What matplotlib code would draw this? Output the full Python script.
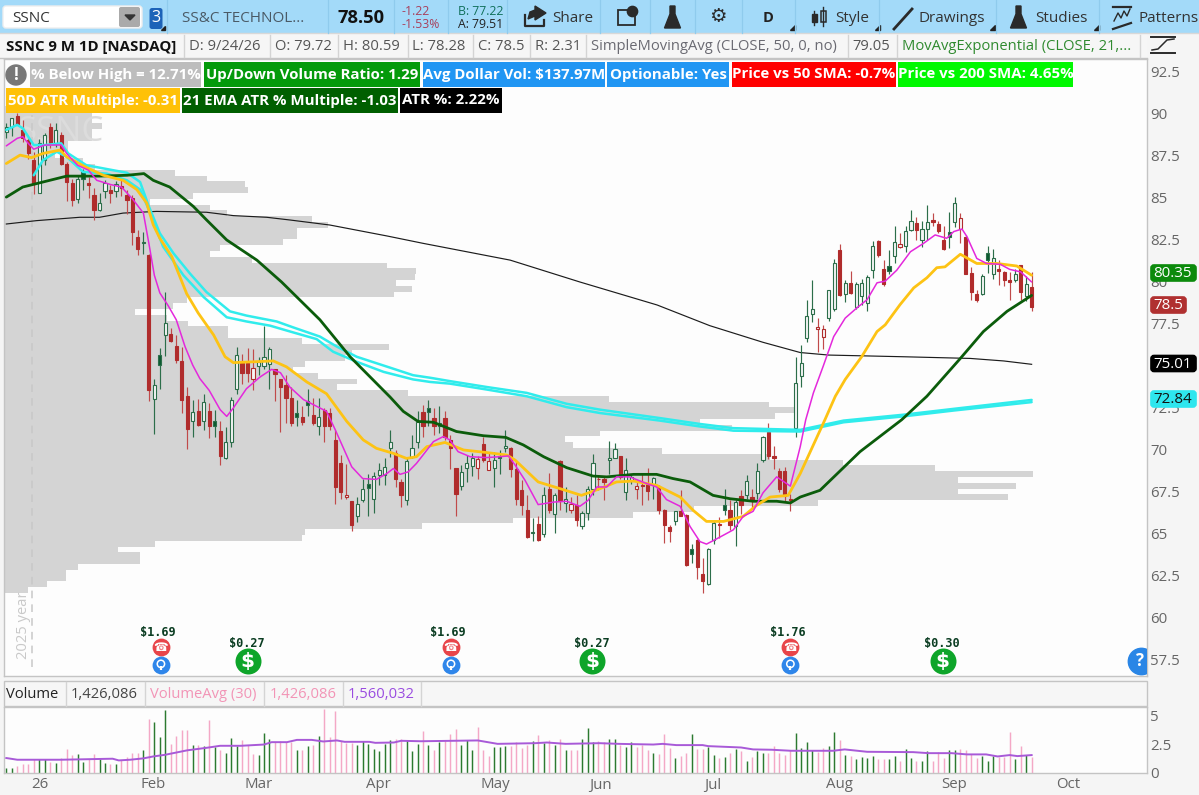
#!/usr/bin/env python3
"""SSNC daily candles with moving averages, volume profile and volume pane."""

import numpy as np
import matplotlib
matplotlib.use("Agg")
import matplotlib.pyplot as plt
from matplotlib.patches import Rectangle, FancyBboxPatch, Polygon

plt.rcParams["font.family"] = ["Open Sans", "DejaVu Sans"]

W, H = 1199, 795

# candles, one entry per trading day
opens = [88.95,89.25,89.85,89.05,88.45,87.25,85.3,87.25,89.25,88.25,
         88.75,87.05,85.9,84.95,86.55,85.9,85.2,84.3,85.4,85.45,
         85.4,85.7,85.2,85.0,82.7,82.4,81.6,73.05,75.65,76.85,
         76.9,76.2,75.3,73.2,71.75,72.3,71.75,72.3,71.75,71.15,
         69.5,70.5,73.65,75.2,75.2,74.2,75.0,75.0,75.1,74.85,
         74.2,73.85,73.1,72.2,71.95,72.9,72.1,71.4,72.4,72.2,
         70.6,69.25,67.2,66.95,66.1,67.0,68.0,67.1,68.5,68.5,
         70.1,69.8,68.1,67.05,69.6,70.45,72.25,72.5,71.9,71.4,
         71.9,70.6,68.95,67.85,68.9,69.05,68.9,70.35,68.8,68.95,
         69.65,70.1,70.1,68.85,67.6,66.4,65.1,65.6,65.0,67.65,
         66.2,69.35,66.85,66.4,66.75,65.5,66.25,67.65,68.3,68.3,
         69.4,69.55,69.65,67.5,68.2,67.65,67.9,67.95,68.0,67.8,
         66.45,65.4,65.75,66.35,66.15,64.1,64.65,62.6,62.0,64.65,
         65.6,66.7,66.45,65.45,67.25,67.3,67.2,67.45,69.4,71.05,
         69.65,68.75,68.75,67.1,71.3,74.4,76.65,78.1,77.2,76.75,
         77.85,78.4,81.9,79.3,79.95,78.5,79.15,78.75,80.7,82.45,
         80.75,80.95,81.55,82.1,82.15,83.1,83.5,82.5,83.15,83.7,
         83.45,82.5,83.0,83.55,83.15,82.7,80.55,79.3,79.3,81.7,
         80.5,80.75,80.6,80.1,80.1,81.0,79.15,79.72]
highs = [89.45,89.75,90.05,89.65,88.55,87.75,88.5,88.85,89.45,89.45,
         88.95,87.15,86.15,86.35,86.7,86.25,85.6,85.3,86.05,85.8,
         86.0,86.05,85.5,85.15,83.1,82.95,81.65,74.2,76.05,79.4,
         77.25,76.85,76.15,73.75,72.95,73.05,73.35,72.8,72.4,71.7,
         71.35,73.15,76.15,75.7,76.1,76.0,75.55,77.4,76.15,74.85,
         74.2,74.45,73.75,73.0,72.6,73.65,73.1,73.1,72.5,72.5,
         71.2,69.7,69.15,66.95,67.2,68.3,68.6,68.7,69.25,69.5,
         71.2,70.0,68.3,69.6,70.9,72.3,72.65,73.0,72.5,72.6,
         72.3,70.9,68.95,69.1,69.7,69.8,69.65,70.8,69.9,69.9,
         70.0,71.2,70.2,69.4,68.2,67.3,65.95,66.05,67.8,68.65,
         67.45,69.4,67.8,67.2,67.3,66.35,67.85,69.75,68.45,68.4,
         70.55,70.4,69.65,69.5,68.5,68.2,68.6,68.95,68.4,67.9,
         66.5,65.55,66.35,67.6,66.2,64.4,64.7,63.55,64.15,65.85,
         66.0,67.65,67.0,67.0,67.6,68.5,67.7,69.2,70.85,71.6,
         70.25,68.95,69.0,67.4,75.55,76.25,78.9,80.1,77.85,77.45,
         79.55,81.35,82.25,80.1,80.65,80.0,80.2,80.4,82.45,82.5,
         81.3,81.9,83.35,82.9,83.35,84.3,83.85,83.6,84.6,84.1,
         83.65,83.35,84.15,85.05,84.1,82.8,80.9,79.55,80.5,82.15,
         81.95,81.3,80.65,80.6,80.8,81.0,80.35,80.59]
lows = [88.55,88.7,89.35,88.35,87.3,85.25,85.3,86.95,87.95,88.05,
        86.95,84.8,84.5,84.7,85.5,85.0,83.7,84.25,85.0,84.7,
        85.05,85.1,84.05,82.2,81.6,81.65,72.9,70.95,73.65,75.6,
        76.45,75.15,72.2,70.05,70.75,71.4,71.2,70.7,70.75,69.1,
        69.45,70.15,73.35,73.95,74.05,73.55,74.45,74.85,73.65,72.9,
        71.05,71.6,71.45,71.45,71.5,72.0,71.5,70.9,70.45,71.2,
        66.8,67.1,67.1,65.15,65.7,66.9,66.1,66.25,67.9,67.9,
        69.6,67.8,66.6,66.7,69.5,70.1,70.8,71.45,70.9,71.0,
        70.6,68.85,66.05,67.6,68.1,68.45,68.3,69.3,68.8,67.8,
        68.6,69.9,68.4,66.75,66.15,64.75,64.6,64.6,64.85,66.25,
        65.05,66.4,66.3,66.25,65.45,65.3,65.85,67.3,67.6,67.05,
        68.55,69.5,68.3,67.0,68.0,67.1,66.75,67.05,67.1,66.2,
        64.45,64.5,65.55,66.05,63.1,63.3,62.35,61.5,61.95,64.4,
        64.75,66.15,65.25,64.3,66.2,67.1,66.55,67.1,69.3,69.45,
        68.85,67.5,66.95,66.35,70.8,73.75,76.4,77.6,75.85,76.0,
        77.65,78.3,79.15,78.8,79.3,78.4,78.65,78.25,80.25,81.5,
        79.75,80.5,81.1,82.05,81.8,83.05,82.5,82.1,82.5,83.35,
        82.9,81.9,82.0,83.25,82.3,80.45,78.95,78.8,79.2,80.55,
        80.15,79.8,79.75,78.95,80.0,78.95,78.85,78.28]
closes = [89.25,89.75,89.4,88.55,87.65,85.85,88.3,88.75,88.25,89.05,
          87.05,85.95,84.85,86.15,86.15,85.8,84.3,84.7,85.9,85.3,
          85.85,85.6,84.85,82.95,81.95,82.3,73.6,73.85,75.05,77.55,
          76.5,75.35,73.0,71.25,72.25,71.5,72.85,71.45,71.45,69.65,
          70.5,73.0,75.65,74.6,74.6,74.9,75.25,75.55,76.0,74.5,
          73.75,73.1,71.6,71.95,71.65,72.7,71.6,71.95,71.45,71.4,
          67.8,67.5,67.3,65.55,66.8,67.7,67.75,68.45,68.8,69.0,
          70.45,68.3,67.3,69.35,70.1,71.65,71.4,72.25,71.4,71.6,
          70.8,70.1,67.4,68.7,69.2,69.55,69.45,69.4,69.35,69.4,
          69.5,70.25,68.85,67.1,66.75,64.85,65.05,64.65,67.3,66.4,
          67.35,67.05,67.1,66.8,65.85,66.25,67.65,69.2,68.25,68.1,
          69.55,70.05,68.4,68.8,68.4,67.85,67.85,67.55,68.35,66.45,
          65.55,65.2,66.35,66.1,63.15,63.8,63.05,62.2,64.1,65.65,
          65.55,66.4,65.55,66.9,66.7,68.15,67.05,68.75,70.75,69.65,
          69.55,67.7,67.25,67.0,74.0,75.2,78.0,78.4,77.3,77.2,
          79.5,81.15,79.25,79.95,79.35,79.9,79.95,80.3,82.15,81.6,
          79.9,80.65,82.4,82.25,83.05,83.6,83.1,83.15,83.55,83.55,
          83.05,81.95,82.65,84.7,83.8,80.5,79.4,78.95,80.35,81.3,
          81.4,80.65,80.1,80.0,80.5,79.4,79.85,78.5]
# G = up on the previous close, R = down
direction = ("GGRRRRGGRG" "RRRGGRRGGR" "GRRRRGRGGG" "RRRRGRGRGR" "GGGRRRGGGR"
             "RRRGRGRGRR" "RRRRGGGGGG" "GRRGGGRGRG" "RRRGGGRRRG" "GGRRRRGRGR"
             "GRGRRGGGRR" "GGRGGRRRGR" "RRGRRGRRGG" "RGRGRGRGGR" "RRRRGGGGRR"
             "GGRGRGGGGR" "RGGRGGRGGR" "RRGGRRRRGG" "GRRRGRGR")
volume = [0.47,0.47,0.64,0.76,0.76,1.26,1.26,1.26,0.96,0.88,
          1.35,2.16,1.55,1.64,0.96,1.26,1.7,1.26,0.88,0.76,
          0.82,1.17,1.4,1.75,1.78,2.0,4.74,4.53,3.2,5.55,
          2.57,3.3,3.83,3.8,2.49,2.49,2.37,4.7,2.28,2.0,
          1.78,3.1,2.34,2.87,2.43,1.7,1.6,3.5,3.0,2.7,
          2.8,2.7,2.7,2.0,2.0,2.37,2.5,3.3,5.64,3.2,
          5.44,2.8,2.66,2.63,2.5,2.78,2.57,2.08,1.9,2.57,
          2.87,3.0,3.0,2.87,1.9,2.57,3.68,2.43,2.0,2.72,
          2.8,3.4,3.9,2.5,2.87,2.0,4.1,2.0,1.5,2.28,
          2.28,2.37,2.34,2.75,2.2,2.5,2.78,3.36,2.66,2.87,
          2.43,3.0,2.0,2.05,2.05,3.0,3.98,2.7,2.8,2.7,
          3.0,3.0,2.43,2.28,2.72,2.28,2.5,2.0,1.78,1.7,
          3.4,2.2,1.3,1.5,1.78,3.4,2.08,2.1,2.28,1.6,
          1.3,1.4,1.78,2.08,1.9,1.1,1.4,1.9,1.78,1.78,
          2.4,1.75,1.6,2.05,3.5,2.2,2.72,2.0,1.84,2.2,
          2.4,3.63,2.92,1.6,1.5,1.2,1.4,1.3,1.5,1.2,
          1.2,1.2,1.5,1.1,2.08,1.3,1.1,1.1,1.9,1.1,
          1.84,1.3,2.0,2.0,2.08,2.0,1.7,1.3,1.5,1.1,
          1.5,1.4,1.4,3.6,1.2,2.4,1.55,1.43]

# study lines at these bars
magenta_x = [0,2,3,4,5,7,10,11,13,15,16.5,19,21,23,25,26,27,28,29.5,31,32.6,34,35.3,37,39,40.2,41.4,43.8,46.3,48.4,
             50,51.7,54.2,56,58.4,60,61.5,63,65,67.5,69.4,70.6,71.8,73.3,74.8,76,77.9,79.7,80.9,82.4,84.6,87.6,90,91.6,
             92.8,94.6,97,99.8,102.2,104.6,106.1,107.7,109.5,111.3,113.7,116.8,118.6,120.4,122.9,124.7,126.5,127.7,129.2,
             132.6,134.4,136.2,138,140.5,143,144.8,145.8,147.2,149,150.9,153,155.1,157,158.8,160.3,162.4,164.9,167.3,
             169.4,171.5,172.8,174.3,175.2,177,178.8,181.3,183,185,187]
magenta_y = [88.1,88.55,88.65,88.25,87.9,88.15,88.15,87.65,86.95,86.65,86.05,85.8,85.65,84.95,84.1,82.3,80.4,79.35,78.6,77.75,76.15,75.05,74.25,73.55,72.4,72.0,72.5,73.65,74.35,74.8,
             74.6,73.75,73.0,72.7,72.3,71.2,70.1,69.0,68.3,68.25,68.6,68.9,68.55,68.7,69.2,69.7,70.5,70.8,70.6,69.9,69.6,69.55,69.6,69.65,
             69.1,68.2,66.75,66.9,66.95,66.65,67.0,67.8,67.8,68.4,68.4,68.0,67.8,67.05,66.65,65.45,64.55,64.4,64.65,
             65.25,66.05,66.35,67.45,68.4,67.85,70.2,71.8,73.4,75.0,76.75,77.85,78.45,78.95,79.95,80.05,80.7,81.8,82.3,
             82.8,82.6,83.0,83.15,82.7,81.4,81.1,81.05,80.75,80.6,80.0]
yellow_x = [0,2.5,4.6,6.7,9.8,11,14.7,17.7,21.3,23.8,25.6,26.8,28,30.2,32.9,35,37.8,39.9,41.4,48.7,
            51.1,54.8,58.4,62.1,65.1,67.5,70.6,73,74.8,76.7,80,83.4,87.6,91.3,92.8,97,101,104.9,108.3,111.3,
            114.4,118.6,122.9,125.3,127.7,130.8,134.4,136.8,139.3,142.6,144.8,149.3,151.2,153,156,158.8,160.3,163,165.5,167.9,
            169.7,171.2,174,177,180.7,184.3,187]
yellow_y = [87.05,87.55,87.4,87.65,87.85,87.45,86.8,86.35,86.05,85.5,84.7,83.4,82.6,81.5,79.3,78.15,76.85,75.55,75.2,75.3,
            74.95,74.05,73.35,71.7,70.6,70.1,69.8,69.5,69.6,70.2,70.45,70.0,69.85,69.7,69.4,68.1,67.7,67.3,67.7,68.1,
            68.15,67.9,67.2,66.4,65.75,65.75,66.05,66.7,67.2,67.3,68.6,71.8,73.2,74.2,75.55,77.05,77.45,78.65,79.65,80.25,
            80.85,80.9,81.65,81.1,81.1,80.95,80.4]
dkgreen_x = [0,3,6.7,11,17,22,25.1,26.8,29.8,34.1,36.5,40.2,45.7,50.2,57.2,62.7,70,72.4,75.1,77.9,
             82.1,87,91.1,94.3,98,102.2,107,109.5,114.4,118.6,121.6,124.7,128.9,132,136.2,140.5,143,144.8,148.4,155.7,
             163.3,167.9,174,178.2,182.5,187]
dkgreen_y = [85.05,85.65,85.95,86.3,86.3,86.35,86.45,86.05,85.65,84.5,83.7,82.5,81.3,80.0,77.75,75.55,73.15,72.3,71.7,71.65,
             71.1,70.85,70.75,70.3,69.6,68.95,68.45,68.4,68.55,68.55,68.3,68.1,67.3,67.1,66.95,66.95,66.85,67.2,67.6,69.9,
             71.8,73.2,75.45,77.05,78.25,79.2]
black_x = [0,5.5,13.4,17,21.3,27.4,36.5,41.4,47.5,51.7,59,69.4,76,91.9,104.6,118.7,128.3,138,144.8,150,163.6,175.8,181.9,187]
black_y = [83.45,83.65,83.85,83.85,84.1,84.2,84.15,83.95,83.85,83.69,83.39,82.74,82.3,81.3,80.0,78.63,77.4,76.41,75.8,75.65,75.55,75.45,75.3,75.1]
cyan_hi_x = [0,2,3,5,7,10,11.3,14.6,19.5,22,24.4,26,28,30.5,33.5,36.5,40.8,43.8,49.3,52.3,57.2,60.3,63.9,70,74.2,77.3,
             80.9,87.6,94.9,102.2,108.3,119.2,126.5,132.6,144.8,152.7,163.6,172.8,187]
cyan_hi_y = [89.05,89.35,89.15,88.15,88.15,88.25,87.65,86.95,86.65,86.5,85.95,84.5,82.9,81.7,80.5,79.4,78.25,78.0,77.65,77.3,76.75,76.15,75.55,74.9,74.45,74.3,
             74.1,73.75,73.4,72.75,72.4,71.9,71.55,71.3,71.2,71.75,72.1,72.45,72.98]
cyan_lo_x = [5,6.7,9.2,11,14,18.3,22,24.4,26,28.6,32.3,36,40.2,43.8,48.1,52.3,56.6,59.6,63.9,68.8,74.2,77.3,
             80.9,87.6,94.9,102.2,108.3,119.2,126.5,132.6,144.8,152.7,163.6,172.8,187]
cyan_lo_y = [86.35,87.25,87.75,87.45,86.55,86.45,86.05,85.5,84.3,82.1,80.4,79.1,77.9,77.65,77.4,77.0,76.6,75.85,75.25,74.65,74.2,74.05,
             73.95,73.6,73.2,72.55,72.2,71.75,71.4,71.15,71.1,71.65,72.0,72.35,72.85]
volavg_x = [0,2,10,19.4,20.5,22.6,25,26.8,28.9,33,36.5,39,42.8,47,48.4,51.2,53,55.7,57.8,60.3,61.7,66.2,67.3,70.7,72,75.6,86,89.6,96.5,98.6,102,
            108.2,111.7,118,119.7,122.2,127,128,134,136.2,139.6,143.1,150.8,152.9,157,165.4,168.2,172.4,175.2,178.7,180.8,183,184.4,187]
volavg_y = [1.32,1.17,1.17,1.26,1.11,1.17,1.29,1.46,1.6,2.0,2.22,2.4,2.4,2.51,2.72,2.72,2.92,2.92,2.78,2.87,2.75,2.75,2.66,2.69,2.84,2.8,2.87,2.57,2.63,2.69,2.57,
            2.63,2.57,2.51,2.57,2.46,2.46,2.37,2.25,2.08,2.05,1.96,1.96,2.08,1.87,1.84,1.75,1.75,1.64,1.64,1.46,1.58,1.49,1.58]

# volume at price, bottom row first, arbitrary units
vp_volume = [24,43,62,62,74,136,136,114,151,298,301,418,509,629,690,814,1004,954,1012,954,
             1029,931,839,766,658,569,561,596,728,696,771,791,765,605,404,333,353,314,289,301,
             341,348,385,298,224,224,184,163,131,169,183,390,408,392,411,412,383,248,206,216,
             279,293,293,324,308,223,206,146,189,244,241,203,171,91,79,51,64,64,88,88,98,88,88,88]
vp_bottom = 61.49
vp_step = 0.345

month_pos = [6.15,26.75,46.1,67.8,89.1,108.3,128.9,151.9,172.8,193.6]
month_labels = ["26","Feb","Mar","Apr","May","Jun","Jul","Aug","Sep","Oct"]
price_ticks = [92.5,90,87.5,85,82.5,80,77.5,75,72.5,70,67.5,65,62.5,60,57.5]
vol_ticks = [5,2.5,0]

earnings_pos = [28.2,81.1,143]
earnings_labels = ["$1.69","$1.69","$1.76"]
dividend_pos = [44,106.8,170.8]
dividend_labels = ["$0.27","$0.27","$0.30"]

C_UP, C_DOWN = "#2c6e4a", "#b02c2c"
C_UP_WICK, C_DOWN_WICK = "#2c6e4a", "#c04a4a"
C_UP_SOLID = "#0c5a30"
PANEL = "#fdfdfd"
CHROME = "#f5f5f5"
EDGE = "#c4c4c4"
TICK = "#666666"


def px_axes(x0, y0, x1, y1):
    # axes placed by pixel box, y measured from the top
    return fig.add_axes([x0 / W, 1 - y1 / H, (x1 - x0) / W, (y1 - y0) / H])


fig = plt.figure(figsize=(W / 100, H / 100), dpi=100, facecolor=CHROME)

ui = fig.add_axes([0, 0, 1, 1], zorder=0)
ui.set_xlim(0, W)
ui.set_ylim(H, 0)
ui.axis("off")

LEFT, RIGHT = 4, 1146.5
ax = px_axes(LEFT, 59, RIGHT, 676)
ax.set_xlim(-0.42, 207.95)
ax.set_ylim(56.55, 93.27)
ax.set_facecolor(PANEL)
ax.set_xticks([])
ax.set_yticks([])
ax.set_zorder(1)

vax = px_axes(LEFT, 707, RIGHT, 773)
vax.set_xlim(-0.42, 207.95)
vax.set_ylim(0, 5.82)
vax.set_facecolor(PANEL)
vax.set_xticks([])
vax.set_yticks([])
vax.set_zorder(1)
for a in (ax, vax):
    for s in a.spines.values():
        s.set_color(EDGE)
        s.set_linewidth(1.0)

# volume profile behind everything
vp_levels = [vp_bottom + vp_step * (k + 0.5) for k in range(len(vp_volume))]
ax.barh(vp_levels, np.array(vp_volume) / 5.483, height=vp_step, left=-0.42,
        color="#d4d4d4", linewidth=0, zorder=1)

ax.text(1.9, 87.9, "SSNC", fontsize=25, color="#dcdcdc", va="bottom", zorder=1.5)

# year separator
ax.axvline(4.63, color="#c8c8c8", lw=1.1, ls=(0, (5, 4)), ymin=0.015, ymax=0.91, zorder=1.6)
ax.text(3.1, 59.6, "2025 year", rotation=90, fontsize=10.6, color="#c9c9c9",
        ha="center", va="center", zorder=1.6)

ax.plot(black_x, black_y, color="#1c1c1c", lw=0.85, zorder=2)

# candles
n = len(closes)
idx = np.arange(n)
for i in idx:
    up = direction[i] == "G"
    solid = closes[i] < opens[i]
    wick = C_UP_WICK if up else C_DOWN_WICK
    edge = C_UP if up else C_DOWN
    if solid:
        face = C_UP_SOLID if up else C_DOWN
    else:
        face = "#f6f6f6"
    ax.vlines(i, lows[i], highs[i], color=wick, lw=0.85, zorder=3)
    low_body, high_body = min(opens[i], closes[i]), max(opens[i], closes[i])
    ax.bar(i, high_body - low_body, bottom=low_body, width=0.58, facecolor=face,
           edgecolor=edge, linewidth=0.8, zorder=3.1)

# study lines
line_kw = dict(solid_joinstyle="round", solid_capstyle="round")
ax.plot(cyan_hi_x, cyan_hi_y, color="#30ecec", lw=1.8, zorder=4, **line_kw)
ax.plot(cyan_lo_x, cyan_lo_y, color="#30ecec", lw=1.8, zorder=4, **line_kw)
ax.plot(dkgreen_x, dkgreen_y, color="#0b5c0b", lw=2.0, zorder=4.1, **line_kw)
ax.plot(yellow_x, yellow_y, color="#fdc314", lw=2.0, zorder=4.2, **line_kw)
ax.plot(magenta_x, magenta_y, color="#e428dc", lw=1.1, zorder=4.3, **line_kw)

# earnings and dividend markers
y_phone, y_bulb, y_div = 58.27, 57.2, 57.44
ax.scatter(earnings_pos, [y_phone] * 3, s=165, color="#e8454a", lw=0, zorder=5)
ax.scatter(earnings_pos, [y_bulb] * 3, s=165, color="#2f86ea", lw=0, zorder=5)
ax.scatter(dividend_pos, [y_div] * 3, s=350, color="#0ea52a", lw=0, zorder=5)
for xp, lab in zip(earnings_pos, earnings_labels):
    ax.text(xp - 0.5, 59.12, lab, family="DejaVu Sans Mono", weight="bold", fontsize=8.6,
            color="#0b3d22", ha="center", va="center", zorder=6)
    ax.text(xp, y_phone - 0.02, "\u260e", family="DejaVu Sans", fontsize=8.5, color="white",
            ha="center", va="center", zorder=6)
    ax.scatter([xp], [y_bulb + 0.07], s=28, facecolor="none", edgecolor="white", lw=1.1, zorder=6)
    ax.vlines(xp, y_bulb - 0.32, y_bulb - 0.08, color="white", lw=1.6, zorder=6)
for xp, lab in zip(dividend_pos, dividend_labels):
    ax.text(xp - 0.1, 58.5, lab, family="DejaVu Sans Mono", weight="bold", fontsize=8.6,
            color="#0b3d22", ha="center", va="center", zorder=6)
    ax.text(xp, y_div, "$", family="DejaVu Sans", weight="bold", fontsize=14.5, color="white",
            ha="center", va="center", zorder=6)

# volume pane
vol_colors = ["#2c7a30" if d == "G" else "#f4a8c6" for d in direction]
vax.vlines(idx, 0, volume, colors=vol_colors, lw=1.05, zorder=2)
vax.plot(volavg_x, volavg_y, color="#a85ad8", lw=1.4, zorder=3)

# overlay for the price tags, tick labels and toolbars
top = fig.add_axes([0, 0, 1, 1], zorder=5)
top.set_xlim(0, W)
top.set_ylim(H, 0)
top.axis("off")
top.patch.set_alpha(0)


def price_y(p):
    return ax.transData.transform((0, p))[1]


def to_top_y(display_y):
    return top.transData.inverted().transform((0, display_y))[1]


for p in price_ticks:
    label = f"{p:g}"
    top.text(1150, to_top_y(price_y(p)) + 1.5, label, fontsize=10.8, color=TICK, va="center", ha="left", zorder=1)
for v, lab in zip(vol_ticks, ["5", "2.5", "0"]):
    yy = to_top_y(vax.transData.transform((0, v))[1])
    t = top.text(1150, yy + 1.5, lab, fontsize=10.8, color=TICK, va="center", ha="left")
    t.set_clip_path(Rectangle((1146, 700), 53, 73, transform=top.transData))

# tags on the price axis
for val, yc, x1, bg, fg in [("80.35", 273, 1197, "#0b8a0b", "white"), ("78.5", 305, 1187, "#b03030", "white"),
                            ("75.01", 363.5, 1197, "#000000", "white"), ("72.84", 399, 1197, "#2ee6ee", "#111111")]:
    top.add_patch(FancyBboxPatch((1151, yc - 8), x1 - 1152, 16, boxstyle="round,pad=0,rounding_size=3",
                                 facecolor=bg, edgecolor=bg, lw=1.2, zorder=3))
    top.text(1153.5, yc + 0.5, val, fontsize=10.9, color=fg, va="center", ha="left", zorder=4)

for xp, lab in zip(month_pos, month_labels):
    top.text(ax.transData.transform((xp, 0))[0], 785, lab, fontsize=10.8, color=TICK, ha="center", va="center")

# help button sits on the right edge of the chart
help_clip = Rectangle((1100, 620), 46.5, 60, transform=top.transData)
c = plt.Circle((1141.5, 661.5), 13.2, color="#2a86e6", zorder=2)
top.add_patch(c)
c.set_clip_path(help_clip)
top.text(1139.5, 661.5, "?", fontsize=12, weight="bold", color="white", ha="center", va="center", zorder=3)

# toolbar
top.add_patch(Rectangle((0, 0), W, 33, facecolor="#a3daf9", edgecolor="none", zorder=0))
top.plot([0, W], [33, 33], color="#d8d8d8", lw=1)
top.add_patch(FancyBboxPatch((3, 6), 139, 22, boxstyle="round,pad=0,rounding_size=3", facecolor="white",
                             edgecolor="#eeeeee", lw=1, zorder=1))
top.add_patch(FancyBboxPatch((119, 7), 21, 20, boxstyle="round,pad=0,rounding_size=2", facecolor="#aaaaaa",
                             edgecolor="none", zorder=2))
top.add_patch(Polygon([(125, 15), (135, 15), (130, 20)], color="#333333", zorder=3))
top.text(12, 18, "SSNC", fontsize=11, color="#333333", va="center")
top.add_patch(FancyBboxPatch((149.5, 8), 13, 21, boxstyle="round,pad=0,rounding_size=2.5", facecolor="#1d63b8",
                             edgecolor="none", zorder=2))
top.text(156, 18, "3", fontsize=11.5, color="white", ha="center", va="center", zorder=3)
top.text(182, 18, "SS&C TECHNOL...", fontsize=11, color="#4a5a66", va="center")
top.text(337, 18, "78.50", fontsize=13.2, weight="bold", color="#111111", va="center")
top.text(402, 11.5, "-1.22", fontsize=8.8, color="#a8405c", va="center")
top.text(402, 24, "-1.53%", fontsize=8.8, color="#a8405c", va="center")
top.text(458, 11.5, "B: 77.22", fontsize=8.8, color="#0f6f5a", va="center")
top.text(458, 24, "A: 79.51", fontsize=8.8, color="#222222", va="center")
top.text(552, 18, "Share", fontsize=11, color="#333333", va="center")
top.text(768.5, 18, "D", fontsize=10.5, weight="bold", color="#222222", ha="center", va="center")
top.text(835, 18, "Style", fontsize=11, color="#333333", va="center")
top.text(919, 18, "Drawings", fontsize=11, color="#333333", va="center")
top.text(1035, 18, "Studies", fontsize=11, color="#333333", va="center")
top.text(1138, 18, "Patterns", fontsize=11, color="#333333", va="center")
for xs in [167, 328, 394, 448, 507, 600, 650, 695, 742, 795, 879, 996, 1099]:
    top.plot([xs, xs], [0, 33], color="#8fcbed", lw=0.9)
for xs in [790, 875, 990, 1094]:
    top.add_patch(Polygon([(xs, 30), (xs + 5, 30), (xs + 5, 25)], color="#222222"))
top.add_patch(Polygon([(161, 30), (165, 30), (165, 26)], color="#222222", zorder=3))

# toolbar icons
dark = "#2a2a2a"
top.plot([525, 525, 544, 544], [15, 26, 26, 20], color=dark, lw=1.6)
top.add_patch(Polygon([(535, 6), (546, 13), (535, 20), (535, 16), (528, 19), (530, 12), (535, 10)], color=dark))
top.add_patch(Rectangle((618, 10), 17, 15, facecolor="none", edgecolor=dark, lw=1.3))
top.scatter([632], [11], s=55, color=dark, zorder=3)
for xf in [672.5, 1018.5]:
    top.add_patch(Polygon([(xf - 2.5, 6), (xf + 2.5, 6), (xf + 2.5, 14), (xf + 8, 28), (xf - 8, 28), (xf - 2.5, 14)],
                          color=dark))
top.text(717.5, 16.5, "\u2699", family="DejaVu Sans", fontsize=14, color=dark, ha="center", va="center")
top.plot([814, 814], [11, 25], color=dark, lw=1)
top.add_patch(Rectangle((811.5, 14), 5, 8, color=dark))
top.plot([823, 823], [7, 26], color=dark, lw=1)
top.add_patch(Rectangle((820.5, 11), 5, 11, facecolor="none", edgecolor=dark, lw=1.1))
top.plot([894, 912], [29, 9], color=dark, lw=2.0)
top.plot([1113, 1131], [7, 7], color=dark, lw=1.6)
top.plot([1113, 1131], [29, 23], color=dark, lw=1.6)
top.plot([1114, 1118, 1121, 1124, 1127, 1130], [21, 13, 18, 11, 16, 9], color=dark, lw=1)

# study title row
top.add_patch(Rectangle((0, 34), 1147, 24, facecolor="#f6f6f6", edgecolor="none", zorder=0))
top.plot([0, 1147], [58, 58], color=EDGE, lw=1)
top.text(6, 46.5, "SSNC 9 M 1D [NASDAQ]", fontsize=10.8, weight="bold", color="#111111", va="center")
for xs, lab, col in [(189, "D: 9/24/26", "#555555"), (275, "O: 79.72", "#555555"), (343, "H: 80.59", "#555555"),
                     (412, "L: 78.28", "#555555"), (478, "C: 78.5", "#555555"), (535, "R: 2.31", "#555555"),
                     (591, "SimpleMovingAvg (CLOSE, 50, 0, no)", "#6a6a72"), (852, "79.05", "#555555"),
                     (902, "MovAvgExponential (CLOSE, 21,...", "#2f8a2f")]:
    top.text(xs, 46.5, lab, fontsize=10.6, color=col, va="center")
for xs in [184, 270, 338, 408, 473, 530, 586, 848, 897, 1140]:
    top.plot([xs, xs], [35, 57], color="#d4d4d4", lw=1)

# label chips above the chart
chips = [(30, 201, 62, "% Below High = 12.71%", "#bdbdbd"),
         (204, 420, 62, "Up/Down Volume Ratio: 1.29", "#049a0b"),
         (423, 605, 62, "Avg Dollar Vol: $137.97M", "#2196f3"),
         (607, 729, 62, "Optionable: Yes", "#2196f3"),
         (732, 896, 62, "Price vs 50 SMA: -0.7%", "#ff0000"),
         (898, 1073, 62, "Price vs 200 SMA: 4.65%", "#00f800"),
         (6, 180, 88, "50D ATR Multiple: -0.31", "#ffc107"),
         (182, 398, 88, "21 EMA ATR % Multiple: -1.03", "#005f00"),
         (400, 502, 88, "ATR %: 2.22%", "#000000")]
for x0, x1, y0, lab, col in chips:
    top.add_patch(Rectangle((x0, y0), x1 - x0, 24.5, facecolor=col, edgecolor="none", zorder=2))
    top.text((x0 + x1) / 2, y0 + 12.5, lab, fontsize=10.8, weight="bold", color="white",
             ha="center", va="center", zorder=3)
top.add_patch(plt.Circle((16, 75), 10, color="#777777", zorder=2))
top.text(16, 75, "!", fontsize=12, weight="bold", color="white", ha="center", va="center", zorder=3)

# panel-switch icon right of the title row
top.plot([1151, 1175], [36.5, 36.5], color=dark, lw=1.4)
top.plot([1151, 1175], [53, 53], color=dark, lw=1.4)
top.plot([1152, 1158, 1163, 1167, 1174], [50, 49, 44, 40, 39], color=dark, lw=1.1)

# volume header row
top.add_patch(Rectangle((LEFT, 681), RIGHT - LEFT, 25, facecolor="#f6f6f6", edgecolor=EDGE, lw=1, zorder=0))
for xs, lab, col in [(6, "Volume", "#222222"), (71, "1,426,086", "#444444"), (150, "VolumeAvg (30)", "#f294b6"),
                     (270, "1,426,086", "#f294b6"), (348, "1,560,032", "#9a4ce0")]:
    top.text(xs, 694.5, lab, fontsize=10.6, color=col, va="center")
for xs in [66, 145, 264, 343, 421]:
    top.plot([xs, xs], [682, 706], color="#d4d4d4", lw=1)

fig.savefig("out.png", dpi=100, facecolor=CHROME)
